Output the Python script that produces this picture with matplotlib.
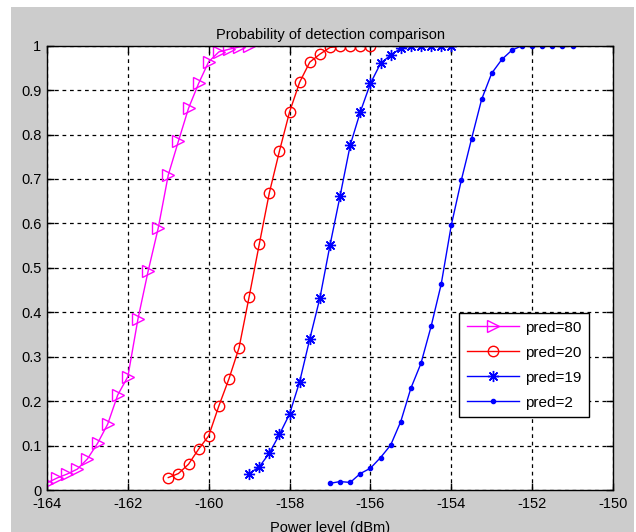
import numpy as np
import matplotlib
matplotlib.use("Agg")
import matplotlib.pyplot as plt
from matplotlib.patches import Rectangle

plt.rcParams['font.family'] = ['Liberation Sans', 'DejaVu Sans']

# Data
x80 = [-164, -163.75, -163.5, -163.25, -163, -162.75, -162.5, -162.25, -162, -161.75,
       -161.5, -161.25, -161, -160.75, -160.5, -160.25, -160, -159.75, -159.5, -159.25, -159]
y80 = [0.016, 0.027, 0.036, 0.047, 0.070, 0.105, 0.148, 0.214, 0.255, 0.385,
       0.492, 0.589, 0.709, 0.785, 0.859, 0.915, 0.964, 0.986, 0.992, 0.997, 1.0]

x20 = [-161, -160.75, -160.5, -160.25, -160, -159.75, -159.5, -159.25, -159, -158.75,
       -158.5, -158.25, -158, -157.75, -157.5, -157.25, -157, -156.75, -156.5, -156.25, -156]
y20 = [0.028, 0.037, 0.058, 0.092, 0.122, 0.189, 0.250, 0.320, 0.435, 0.553,
       0.669, 0.763, 0.851, 0.918, 0.963, 0.981, 0.996, 0.999, 1.0, 1.0, 1.0]

x19 = [-159, -158.75, -158.5, -158.25, -158, -157.75, -157.5, -157.25, -157, -156.75,
       -156.5, -156.25, -156, -155.75, -155.5, -155.25, -155, -154.75, -154.5, -154.25, -154]
y19 = [0.037, 0.052, 0.083, 0.125, 0.171, 0.244, 0.340, 0.432, 0.551, 0.662,
       0.776, 0.851, 0.915, 0.960, 0.979, 0.994, 1.0, 1.0, 1.0, 1.0, 1.0]

x2 = [-157, -156.75, -156.5, -156.25, -156, -155.75, -155.5, -155.25, -155, -154.75,
      -154.5, -154.25, -154, -153.75, -153.5, -153.25, -153, -152.75, -152.5, -152.25,
      -152, -151.75, -151.5, -151.25, -151]
y2 = [0.015, 0.019, 0.017, 0.037, 0.049, 0.073, 0.101, 0.154, 0.229, 0.285,
      0.368, 0.463, 0.596, 0.698, 0.790, 0.879, 0.938, 0.969, 0.990, 1.0,
      1.0, 1.0, 1.0, 1.0, 1.0]

labels = ['pred=80', 'pred=20', 'pred=19', 'pred=2']
title = 'Probability of detection comparison'
xlabel = 'Power level (dBm)'
xticks = [-164, -162, -160, -158, -156, -154, -152, -150]
yticks = [0, 0.1, 0.2, 0.3, 0.4, 0.5, 0.6, 0.7, 0.8, 0.9, 1]

W, H = 636, 532
fig = plt.figure(figsize=(W / 100, H / 100), dpi=100, facecolor='white')
fig.patches.append(Rectangle((11 / W, 0), (634 - 11) / W, 1 - 7 / H,
                             transform=fig.transFigure, facecolor='#cccccc',
                             edgecolor='none', zorder=-10))

ax = fig.add_axes([47 / W, 1 - 490 / H, (613 - 47) / W, (490 - 45.7) / H])
ax.set_facecolor('white')

ax.plot(x80, y80, color='#ff00ff', marker='>', markersize=8, markerfacecolor='none',
        markeredgewidth=1, linewidth=1, label=labels[0])
ax.plot(x20, y20, color='#ff0000', marker='o', markersize=7.5, markerfacecolor='none',
        markeredgewidth=1, linewidth=1, label=labels[1])
ax.plot(x19, y19, color='#0000ff', marker=(8, 2, 0), markersize=8,
        markeredgewidth=1, linewidth=1, label=labels[2])
ax.plot(x2, y2, color='#0000ff', marker='o', markersize=3, markerfacecolor='#0000ff',
        linewidth=1, label=labels[3])

ax.set_xlim(-164, -150)
ax.set_ylim(0, 1)
ax.set_xticks(xticks)
ax.set_xticklabels([str(t) for t in xticks])
ax.set_yticks(yticks)
ax.set_yticklabels(['0', '0.1', '0.2', '0.3', '0.4', '0.5', '0.6', '0.7', '0.8', '0.9', '1'])
ax.tick_params(direction='in', length=5, width=1, top=True, right=True,
               labelsize=10.5, colors='black', pad=4)
ax.tick_params(axis='x', pad=5)
ax.grid(True, color='black', linestyle=(0, (3, 3)), linewidth=0.9)
for s in ax.spines.values():
    s.set_linewidth(1)
    s.set_color('black')

ax.set_title(title, fontsize=10.5, pad=5)
ax.set_xlabel(xlabel, fontsize=10.5, labelpad=7)

leg = ax.legend(loc='upper left', bbox_to_anchor=((459 - 47) / (613 - 47), (490 - 313) / (490 - 45.7)),
                fontsize=11, frameon=True, fancybox=False, edgecolor='black',
                framealpha=1, borderpad=0.5, handlelength=3.4, labelspacing=0.72,
                handletextpad=0.4, borderaxespad=0)
leg.get_frame().set_linewidth(1)

fig.savefig('out.png', dpi=100, facecolor=fig.get_facecolor())
